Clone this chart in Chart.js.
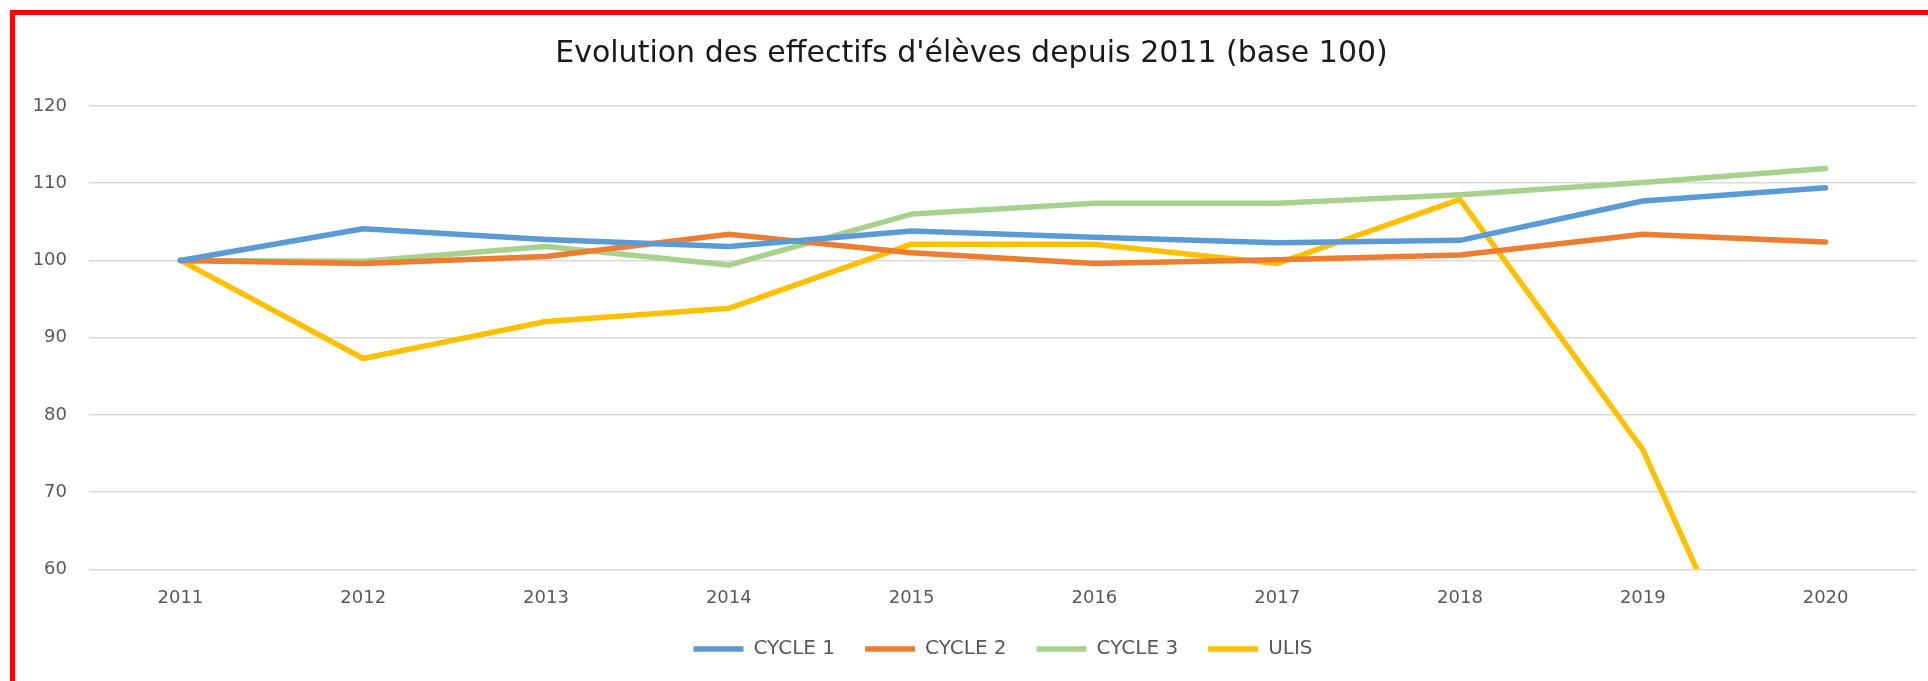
<!DOCTYPE html>
<html>
<head>
<meta charset="utf-8">
<script src="https://cdn.jsdelivr.net/npm/chart.js@4/dist/chart.umd.min.js"></script>
<style>
  body { margin: 0; background: #fff; overflow: hidden; }
  #wrap { position: relative; width: 1928px; height: 681px; }
  #frame { position: absolute; left: 10px; top: 10px; right: 0; bottom: 0;
           border-left: 5px solid #ff0000; border-top: 5px solid #ff0000; pointer-events: none; }
</style>
</head>
<body>
<div id="wrap">
  <canvas id="evolution" width="1928" height="681"></canvas>
  <div id="frame"></div>
</div>
<script>
const years = ['2011', '2012', '2013', '2014', '2015', '2016', '2017', '2018', '2019', '2020'];
const cycle1 = [100, 104.1, 102.7, 101.8, 103.8, 103.0, 102.3, 102.6, 107.7, 109.4];
const cycle2 = [100, 99.6, 100.5, 103.4, 101.0, 99.6, 100.1, 100.7, 103.4, 102.4];
const cycle3 = [100, 99.9, 101.8, 99.4, 106.0, 107.4, 107.4, 108.5, 110.1, 111.9];
const ulis = [100, 87.3, 92.1, 93.8, 102.1, 102.1, 99.6, 107.9, 75.5, 23];
const yTicks = [60, 70, 80, 90, 100, 110, 120];

const FONT = "'DejaVu Sans', sans-serif";
const GREY = '#595959';

function serie(label, data, color) {
    return {
        label: label,
        data: data,
        borderColor: color,
        backgroundColor: color,
        borderWidth: 5.5,
        borderCapStyle: 'round',
        borderJoinStyle: 'round',
        pointRadius: 0,
        pointHoverRadius: 0,
        fill: false,
        tension: 0
    };
}

const ctx = document.getElementById('evolution').getContext('2d');
const evolutionChart = new Chart(ctx, {
    type: 'line',
    data: {
        labels: years,
        datasets: [
            serie('CYCLE 1', cycle1, '#5B9BD5'),
            serie('CYCLE 2', cycle2, '#ED7D31'),
            serie('CYCLE 3', cycle3, '#A9D18E'),
            serie('ULIS', ulis, '#FFC000')
        ]
    },
    options: {
        responsive: false,
        animation: false,
        layout: { padding: { left: 26, right: 11, top: 0, bottom: 12 } },
        plugins: {
            title: {
                display: true,
                text: "Evolution des effectifs d'élèves depuis 2011 (base 100)",
                color: '#1a1a1a',
                font: { family: FONT, size: 30, weight: 'normal', lineHeight: 1.2 },
                padding: { top: 36, bottom: 34 }
            },
            legend: {
                position: 'bottom',
                fullSize: false,
                labels: {
                    color: GREY,
                    font: { family: FONT, size: 20 },
                    usePointStyle: true,
                    pointStyle: 'line',
                    pointStyleWidth: 50,
                    padding: 30
                }
            },
            tooltip: { enabled: false }
        },
        scales: {
            x: {
                offset: true,
                grid: { display: false, drawTicks: false },
                border: { display: false },
                ticks: { color: GREY, font: { family: FONT, size: 18 }, padding: 18, maxRotation: 0 },
                afterFit: function (scale) { scale.height = 39.7; }
            },
            y: {
                min: 60,
                max: 120,
                afterBuildTicks: function (scale) {
                    scale.ticks = yTicks.map(function (v) { return { value: v }; });
                },
                grid: { color: '#d9d9d9', lineWidth: 1.5, drawTicks: false },
                border: { display: false },
                ticks: { color: GREY, font: { family: FONT, size: 18 }, padding: 22 },
                afterFit: function (scale) { scale.width = 63; }
            }
        }
    }
});
</script>
</body>
</html>
